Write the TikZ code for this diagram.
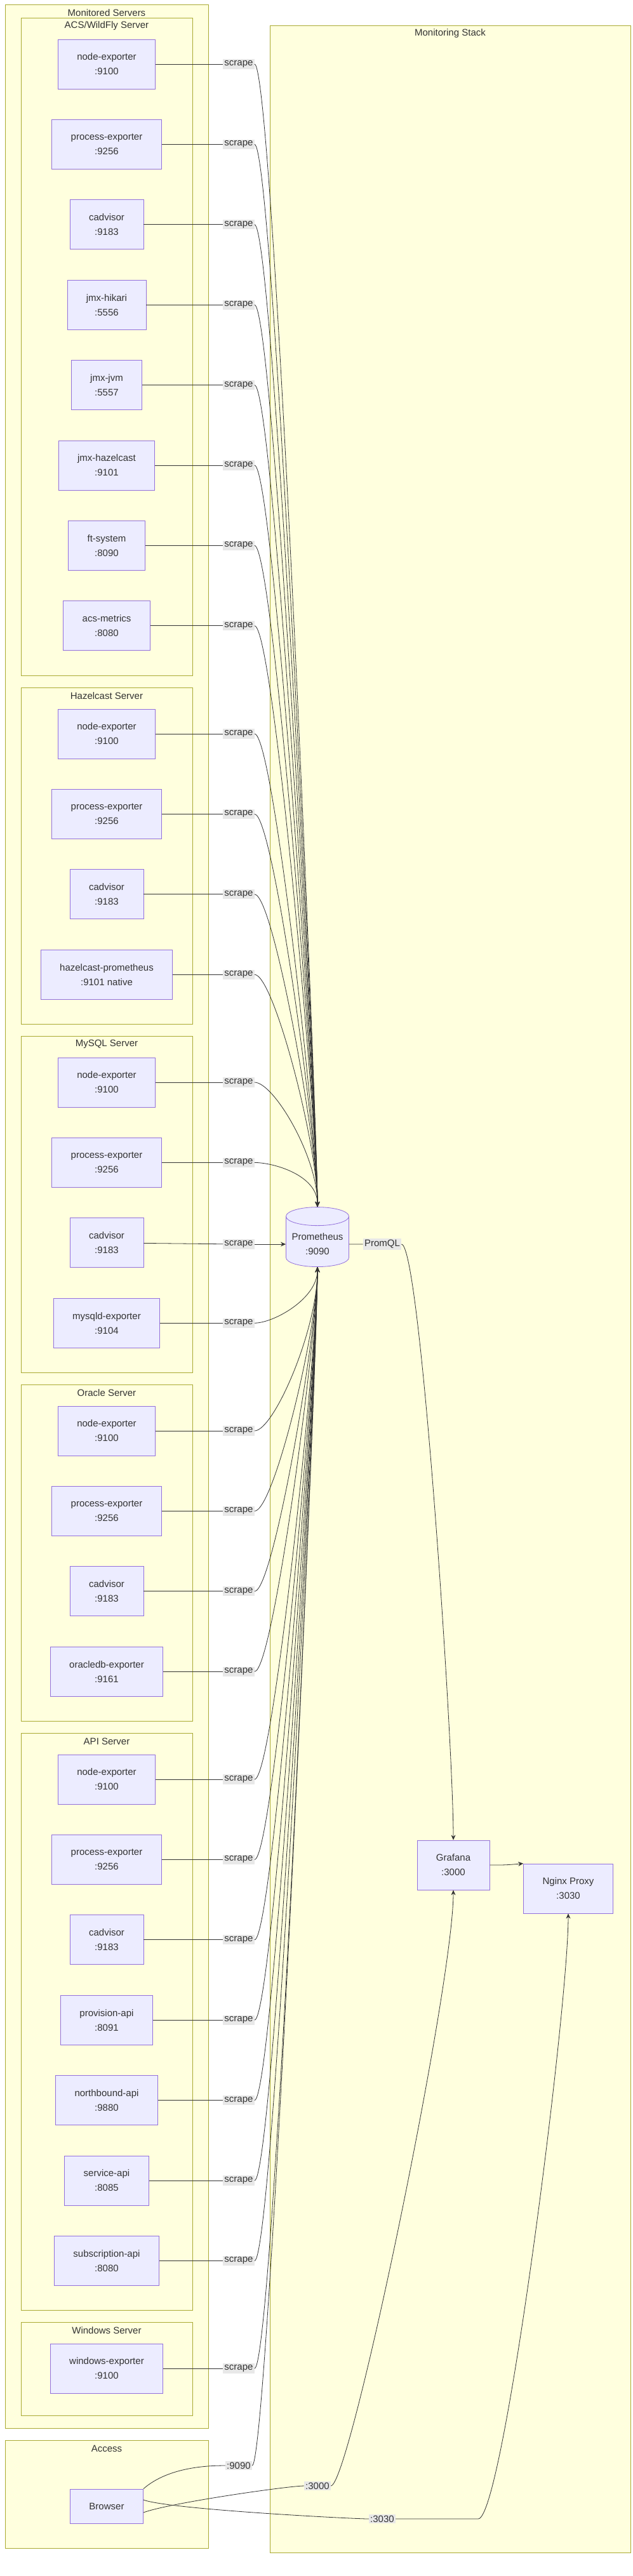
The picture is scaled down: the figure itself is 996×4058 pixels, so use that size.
\documentclass[tikz,border=0pt]{standalone}
\usepackage{fontspec}
\setmainfont{Liberation Sans}
\usetikzlibrary{shapes.geometric,arrows.meta}
\definecolor{nodefill}{HTML}{ECECFF}
\definecolor{nodeline}{HTML}{9370DB}
\definecolor{groupfill}{HTML}{FFFFDE}
\definecolor{groupline}{HTML}{AAAA33}
\definecolor{labelfill}{HTML}{E8E8E8}
\definecolor{textcol}{HTML}{333333}
\tikzset{
  svc/.style={draw=nodeline, fill=nodefill, align=center, minimum height=39pt,
    inner xsep=15pt, font=\fontsize{7.5}{11.5}\selectfont, text=textcol},
  group/.style={draw=groupline, fill=groupfill},
  gtitle/.style={font=\fontsize{7.5}{9}\selectfont, text=textcol},
  elabel/.style={fill=labelfill, inner sep=1pt, font=\fontsize{7.5}{9}\selectfont, text=textcol},
  link/.style={draw=textcol, thin},
  arr/.style={link, -{Stealth[length=4pt,width=3.5pt]}}
}
\newcommand{\scrape}[4]{% node, y, target, control offset
  \node[elabel] (l#1) at (376,#2) {scrape};
  \draw[link] (#1) -- (l#1);
  \draw[arr] (l#1.east) .. controls +(30,0) and +(0,#4) .. (#3);
}
\begin{document}
\begin{tikzpicture}[x=0.5pt,y=-0.5pt]
	\useasboundingbox (0,0) rectangle (996,4058);

	% groups
	\draw[group] (8,7) rectangle (328,3825);
	\node[gtitle] at (168,20) {Monitored Servers};
	\draw[group] (425,40) rectangle (993,4021);
	\node[gtitle] at (709,53) {Monitoring Stack};
	\draw[group] (8,3844) rectangle (328,4014);
	\node[gtitle] at (168,3857) {Access};

	\draw[group] (33,28) rectangle (303,1064);
	\node[gtitle] at (168,41) {ACS/WildFly Server};
	\draw[group] (33,1083) rectangle (303,1613);
	\node[gtitle] at (168,1096) {Hazelcast Server};
	\draw[group] (33,1632) rectangle (303,2162);
	\node[gtitle] at (168,1645) {MySQL Server};
	\draw[group] (33,2181) rectangle (303,2711);
	\node[gtitle] at (168,2194) {Oracle Server};
	\draw[group] (33,2730) rectangle (303,3639);
	\node[gtitle] at (168,2743) {API Server};
	\draw[group] (33,3658) rectangle (303,3805);
	\node[gtitle] at (168,3671) {Windows Server};

	% monitoring stack
	\node[svc, cylinder, shape border rotate=90, aspect=0.3, minimum width=49.5pt,
	  minimum height=47pt, inner xsep=4pt] (prom) at (500,1960) {Prometheus\\:9090};
	\node[svc] (grafana) at (714,2938) {Grafana\\:3000};
	\node[svc] (nginx) at (895,2975) {Nginx Proxy\\:3030};
	\node[svc, minimum height=27pt] (browser) at (168,3948) {Browser};

	% exporters
	\foreach \lbl/\port [count=\i] in {node-exporter/9100,process-exporter/9256,cadvisor/9183,
	    jmx-hikari/5556,jmx-jvm/5557,jmx-hazelcast/9101,ft-system/8090,acs-metrics/8080} {
	  \pgfmathsetmacro\yy{101+(\i-1)*126.4}
	  \node[svc] (acs\i) at (168,\yy) {\lbl\\:\port};
	  \scrape{acs\i}{\yy}{prom.north}{-120}
	}
	\foreach \lbl/\port [count=\i] in {node-exporter/9100,process-exporter/9256,cadvisor/9183,
	    hazelcast-prometheus/9101 native} {
	  \pgfmathsetmacro\yy{1156+(\i-1)*126.4}
	  \node[svc] (hz\i) at (168,\yy) {\lbl\\:\port};
	  \scrape{hz\i}{\yy}{prom.north}{-100}
	}
	\foreach \lbl/\port [count=\i] in {node-exporter/9100,process-exporter/9256,cadvisor/9183,
	    mysqld-exporter/9104} {
	  \pgfmathsetmacro\yy{1705+(\i-1)*126.4}
	  \node[svc] (my\i) at (168,\yy) {\lbl\\:\port};
	}
	\scrape{my1}{1705}{prom.north}{-80}
	\scrape{my2}{1831.4}{prom.north}{-50}
	\node[elabel] (lmy3) at (376,1960) {scrape};
	\draw[link] (my3) -- (lmy3);
	\draw[arr] (lmy3) -- (prom);
	\scrape{my4}{2084.2}{prom.south}{50}
	\foreach \lbl/\port [count=\i] in {node-exporter/9100,process-exporter/9256,cadvisor/9183,
	    oracledb-exporter/9161} {
	  \pgfmathsetmacro\yy{2254+(\i-1)*126.4}
	  \node[svc] (ora\i) at (168,\yy) {\lbl\\:\port};
	  \scrape{ora\i}{\yy}{prom.south}{100}
	}
	\foreach \lbl/\port [count=\i] in {node-exporter/9100,process-exporter/9256,cadvisor/9183,
	    provision-api/8091,northbound-api/9880,service-api/8085,subscription-api/8080} {
	  \pgfmathsetmacro\yy{2803+(\i-1)*126.4}
	  \node[svc] (api\i) at (168,\yy) {\lbl\\:\port};
	  \scrape{api\i}{\yy}{prom.south}{120}
	}
	\node[svc] (win1) at (168,3731) {windows-exporter\\:9100};
	\scrape{win1}{3731}{prom.south}{120}

	% queries and access
	\node[elabel] (lpromql) at (602,1960) {PromQL};
	\draw[link] (prom) -- (lpromql);
	\draw[arr] (lpromql.east) .. controls +(30,0) and +(0,-150) .. (grafana.north);
	\draw[arr] (grafana.east) .. controls +(25,0) .. (nginx.north west);

	\node[elabel] (l9090) at (376,3884) {:9090};
	\node[elabel] (l3000) at (500,3916) {:3000};
	\node[elabel] (l3030) at (602,3968) {:3030};
	\draw[link] (browser.north east) .. controls +(40,-35) and +(-25,0) .. (l9090.west);
	\draw[arr] (l9090.east) .. controls +(25,0) and +(0,150) .. (prom.south);
	\draw[link] ([yshift=-5]browser.east) .. controls +(40,-15) and +(-25,0) .. (l3000.west);
	\draw[arr] (l3000.east) .. controls +(30,0) and +(0,150) .. (grafana.south);
	\draw[link] ([yshift=5]browser.east) .. controls +(40,15) and +(-25,0) .. (l3030.west);
	\draw[arr] (l3030.east) -- +(130,0) .. controls +(40,0) and +(0,150) .. (nginx.south);
\end{tikzpicture}
\end{document}
